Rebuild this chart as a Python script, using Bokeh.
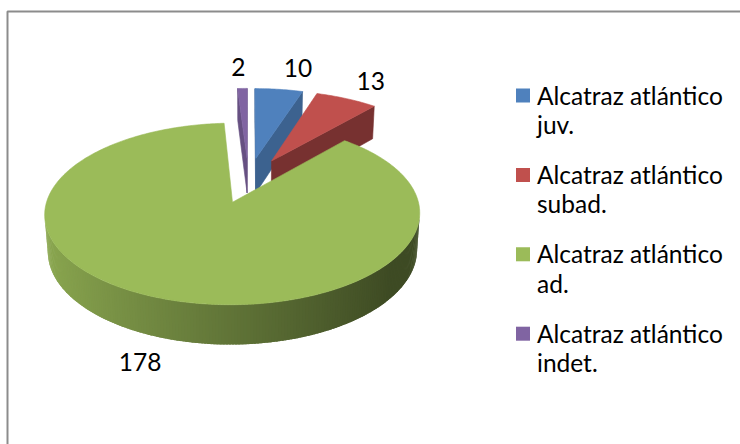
import math
import numpy as np
from bokeh.plotting import figure
from bokeh.models import Range1d, ColumnDataSource
from bokeh.core.properties import value
from bokeh.embed import file_html
from bokeh.resources import INLINE

# ---- data ----
categories = ["Alcatraz atlántico juv.", "Alcatraz atlántico subad.",
              "Alcatraz atlántico ad.", "Alcatraz atlántico indet."]
values = [10, 13, 178, 2]
colors = ["#4F81BD", "#C0504D", "#9BBB59", "#8064A2"]

# ---- styles / layout (pixel-like coordinates of the page) ----
CX, CY = 248.0, 179.6      # projected pie centre
A = 180.0                  # horizontal scale at centre depth
PHI = math.radians(27.7)   # view elevation
K = 0.125                  # perspective strength
D = math.cos(PHI) / K
F = A * D
H = 0.226                  # pie thickness (radius units)
E = 0.27                   # explosion distance (radius units)
CAM = (0.0, -D * math.cos(PHI), D * math.sin(PHI))
label_dx = [19, 24, -24, -4]
label_dy = [-12, -9, 33, -12]
TEXT_SHIFT = -9            # font baseline compensation
FONT = "Lato"
FS = "24.5px"

W, HGT = 740, 444
p = figure(width=W, height=HGT, x_range=Range1d(0, W), y_range=Range1d(HGT, 0),
           output_backend="svg", toolbar_location=None, min_border=0,
           x_axis_location=None, y_axis_location=None)
p.grid.visible = False
p.outline_line_color = None
p.background_fill_color = "white"
p.border_fill_color = "white"


def proj(u, v, y):
    zc = D + v * math.cos(PHI) - y * math.sin(PHI)
    yc = v * math.sin(PHI) + y * math.cos(PHI)
    return CX + F * u / zc, CY - F * yc / zc


def shade(hexc, f):
    rgb = [int(hexc[i:i + 2], 16) for i in (1, 3, 5)]
    return "#%02x%02x%02x" % tuple(max(0, min(255, int(round(c * f)))) for c in rgb)


def visible(n, pt):
    return sum(n[i] * (CAM[i] - pt[i]) for i in range(3)) > 0


total = float(sum(values))
cum = np.concatenate([[0.0], np.cumsum(values)]) / total * 2 * math.pi

slices = []
for i, val in enumerate(values):
    t0, t1 = cum[i], cum[i + 1]
    tm = 0.5 * (t0 + t1)
    ou, ov = E * math.sin(tm), E * math.cos(tm)
    nseg = max(2, int((t1 - t0) / 0.015) + 1)
    ths = np.linspace(t0, t1, nseg)
    polys = []
    # curved outer side
    for j in range(len(ths) - 1):
        a, b = ths[j], ths[j + 1]
        thm = 0.5 * (a + b)
        n = (math.sin(thm), math.cos(thm), 0.0)
        pt = (ou + math.sin(thm), ov + math.cos(thm), -H / 2)
        if visible(n, pt):
            a2 = max(t0, a - 0.006)
            b2 = min(t1, b + 0.006)
            pts = [proj(ou + math.sin(a2), ov + math.cos(a2), 0),
                   proj(ou + math.sin(b2), ov + math.cos(b2), 0),
                   proj(ou + math.sin(b2), ov + math.cos(b2), -H),
                   proj(ou + math.sin(a2), ov + math.cos(a2), -H)]
            f = min(0.9, max(0.4, 0.62 - 0.28 * n[0]))
            polys.append(([q[0] for q in pts], [q[1] for q in pts], shade(colors[i], f), 0.0))
    # radial cut faces
    rad = []
    for th, sg in ((t0, -1.0), (t1, 1.0)):
        n = (sg * math.cos(th), -sg * math.sin(th), 0.0)
        pt = (ou + 0.5 * math.sin(th), ov + 0.5 * math.cos(th), -H / 2)
        if visible(n, pt):
            pts = [proj(ou, ov, 0), proj(ou + math.sin(th), ov + math.cos(th), 0),
                   proj(ou + math.sin(th), ov + math.cos(th), -H), proj(ou, ov, -H)]
            f = min(0.8, max(0.45, 0.88 + 0.4 * n[1]))
            rad.append(([q[0] for q in pts], [q[1] for q in pts], shade(colors[i], f), 0.6))
    # top face
    top = [proj(ou, ov, 0)] + [proj(ou + math.sin(t), ov + math.cos(t), 0) for t in ths]
    topp = ([q[0] for q in top], [q[1] for q in top], colors[i], 0.6)
    depth = D + (ov + 0.5 * math.cos(tm)) * math.cos(PHI)
    # label anchor: outer edge at mid angle
    yl = -H if math.cos(tm) < 0 else 0
    ax, ay = proj(ou + math.sin(tm), ov + math.cos(tm), yl)
    slices.append((depth, rad + polys + [topp],
                   (ax + label_dx[i], ay + label_dy[i] + TEXT_SHIFT, str(val))))

xs, ys, cs, lw = [], [], [], []
for depth, polys, _ in sorted(slices, key=lambda s: -s[0]):
    for px, py, c, w in polys:
        xs.append(px); ys.append(py); cs.append(c); lw.append(w)
src = ColumnDataSource(dict(xs=xs, ys=ys, c=cs, lw=lw))
p.patches("xs", "ys", source=src, fill_color="c", line_color="c", line_width="lw")

# data labels
lx = [s[2][0] for s in slices]
ly = [s[2][1] for s in slices]
lt = [s[2][2] for s in slices]
p.text(lx, ly, text=lt, text_font=value(FONT), text_font_size=FS, text_color="black",
       text_align="center", text_baseline="alphabetic")

# legend (manual, wrapped labels)
LEG_X, LEG_Y0, LEG_DY, LINE_DY = 522.5, 95.0, 79.4, 29.5
line1 = [c.rsplit(" ", 1)[0] for c in categories]
line2 = [c.rsplit(" ", 1)[1] for c in categories]
sq_y = [LEG_Y0 + LEG_DY * i for i in range(len(categories))]
by = [y + 8.5 + TEXT_SHIFT for y in sq_y]
p.rect([LEG_X] * len(categories), sq_y, width=14, height=14,
       fill_color=colors, line_color=None)
p.text([536.5] * len(categories), by, text=line1, text_font=value(FONT), text_font_size=FS,
       text_color="black", text_align="left", text_baseline="alphabetic")
p.text([536.5] * len(categories), [b + LINE_DY for b in by], text=line2, text_font=value(FONT),
       text_font_size=FS, text_color="black", text_align="left", text_baseline="alphabetic")

# chart area border (left and top edges visible)
p.line([7, 7, W], [HGT, 11, 11], line_color="#8c8c8c", line_width=2)

open("out.html", "w").write(file_html(p, INLINE))
